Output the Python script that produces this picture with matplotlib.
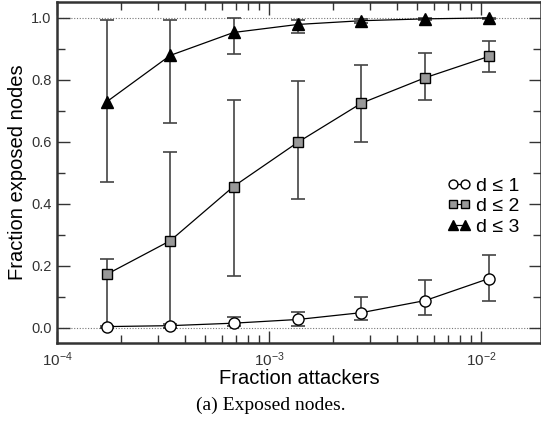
import numpy as np
import matplotlib
matplotlib.use('Agg')
import matplotlib.pyplot as plt
from matplotlib.ticker import FixedLocator, LogLocator, NullFormatter, FuncFormatter, MultipleLocator

plt.rcParams['font.family'] = ['Liberation Sans', 'DejaVu Sans']
plt.rcParams['mathtext.fontset'] = 'custom'
plt.rcParams['mathtext.rm'] = 'Liberation Sans'
plt.rcParams['mathtext.it'] = 'Liberation Sans'

# data
attackers = [1.72e-4, 3.42e-4, 6.8e-4, 1.37e-3, 2.73e-3, 5.45e-3, 1.09e-2]

d1_mean = [0.003, 0.006, 0.014, 0.026, 0.048, 0.087, 0.158]
d1_low = [0.0, 0.0, 0.004, 0.006, 0.023, 0.039, 0.085]
d1_high = [0.006, 0.012, 0.034, 0.05, 0.1, 0.152, 0.235]

d2_mean = [0.172, 0.28, 0.455, 0.598, 0.724, 0.806, 0.875]
d2_low = [0.0, 0.0, 0.165, 0.415, 0.6, 0.735, 0.826]
d2_high = [0.222, 0.565, 0.735, 0.795, 0.847, 0.885, 0.923]

d3_mean = [0.729, 0.878, 0.952, 0.978, 0.99, 0.996, 0.999]
d3_low = [0.47, 0.66, 0.882, 0.95, 0.982, 0.992, 0.997]
d3_high = [0.993, 0.993, 0.998, 0.993, 0.997, 0.999, 1.0]

labels = ['d \u2264 1', 'd \u2264 2', 'd \u2264 3']


def yerr(mean, low, high):
    mean = np.array(mean)
    return [mean - np.array(low), np.array(high) - mean]


fig = plt.figure(figsize=(5.41, 4.24), dpi=100)
ax = fig.add_axes([0.1054, 0.191, 0.8946, 0.804])

ax.axhline(0.0, color='#777777', lw=0.8, ls=(0, (1, 1.5)), zorder=1)
ax.axhline(1.0, color='#777777', lw=0.8, ls=(0, (1, 1.5)), zorder=1)

styles = [
    dict(marker='o', mfc='white', mec='black', ms=8),
    dict(marker='s', mfc='#999999', mec='black', ms=7.5),
    dict(marker='^', mfc='black', mec='black', ms=8.5),
]
series = [(d1_mean, d1_low, d1_high), (d2_mean, d2_low, d2_high), (d3_mean, d3_low, d3_high)]

for (m, lo, hi), st, lab in zip(series, styles, labels):
    ax.errorbar(attackers, m, yerr=yerr(m, lo, hi), fmt='none', ecolor='#444444',
                elinewidth=1.2, capsize=5, capthick=1.2, zorder=2)
    ax.plot(attackers, m, color='black', lw=0.9, mew=1.0, label=lab, zorder=3, **st)

ax.set_xscale('log')
ax.set_xlim(1e-4, 10 ** (-1.717))
ax.set_ylim(-0.05, 1.05)

ax.xaxis.set_major_locator(FixedLocator([1e-4, 1e-3, 1e-2]))
ax.xaxis.set_minor_locator(LogLocator(base=10, subs=np.arange(2, 10), numticks=20))
ax.xaxis.set_minor_formatter(NullFormatter())
ax.xaxis.set_major_formatter(FuncFormatter(lambda v, p: r'$10^{%d}$' % int(round(np.log10(v)))))
ax.yaxis.set_major_locator(MultipleLocator(0.2))
ax.yaxis.set_minor_locator(MultipleLocator(0.1))
ax.yaxis.set_major_formatter(FuncFormatter(lambda v, p: '%.1f' % v))

ax.tick_params(which='both', direction='in', top=True, right=True, colors='#333333',
               labelcolor='#333333', width=1.0)
ax.tick_params(which='major', length=9, labelsize=10.5)
ax.tick_params(which='minor', length=6)
ax.tick_params(axis='x', which='major', pad=5, labelsize=11)
ax.tick_params(axis='y', which='major', pad=4)

for sp in ax.spines.values():
    sp.set_linewidth(1.8)
    sp.set_color('#333333')

ax.set_xlabel('Fraction attackers', fontsize=14.5, labelpad=0)
ax.set_ylabel('Fraction exposed nodes', fontsize=14.5, labelpad=3)

ax.legend(loc='upper left', bbox_to_anchor=(0.79, 0.51), frameon=False, numpoints=2,
          handlelength=1.2, handletextpad=0.3, labelspacing=0.15, fontsize=14,
          markerscale=0.8, borderaxespad=0)

fig.text(0.5, 0.045, '(a) Exposed nodes.', ha='center', va='center', fontsize=14,
         family='Liberation Serif')

fig.savefig('out.png', dpi=100)
